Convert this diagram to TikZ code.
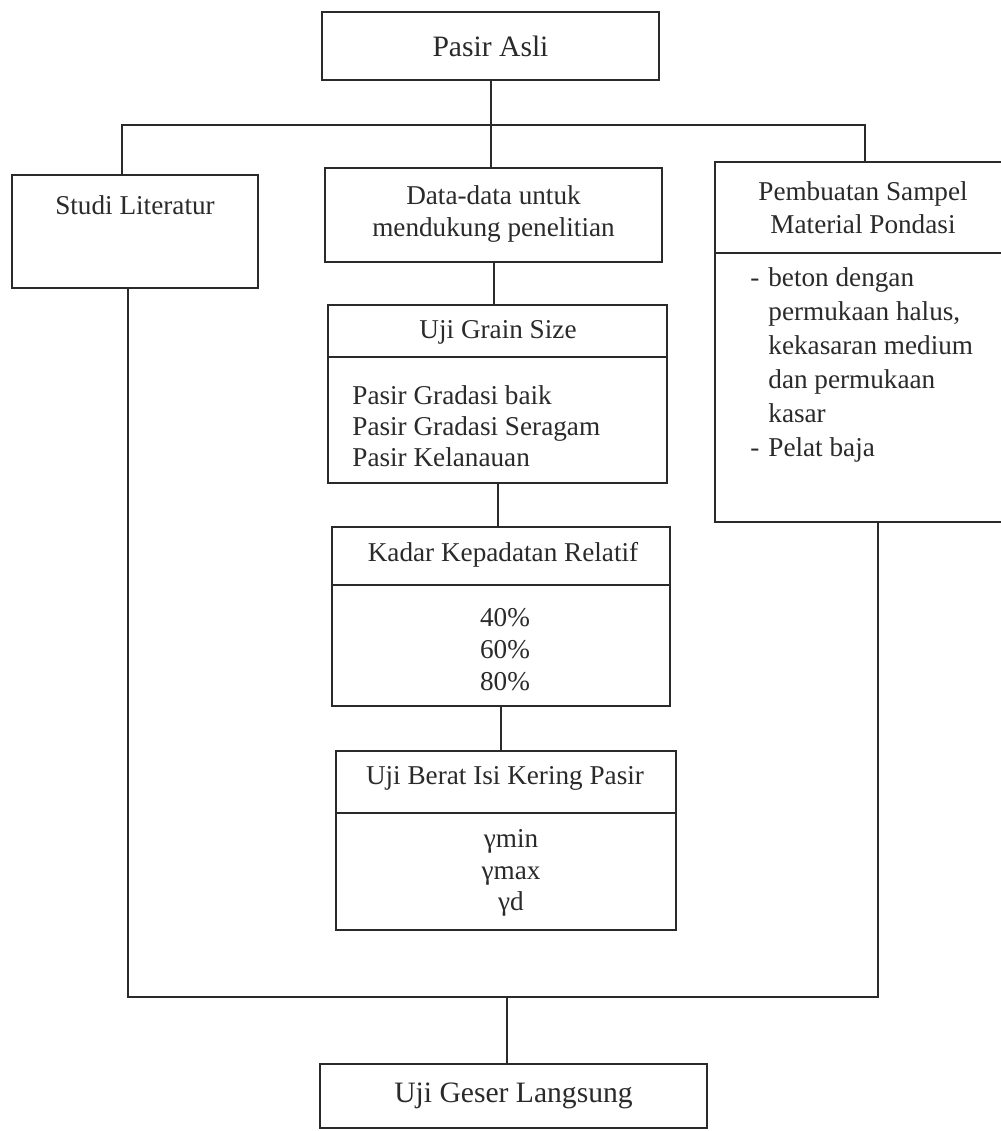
\documentclass[tikz,border=0pt]{standalone}
\usepackage{fontspec}
\setmainfont{Liberation Serif}
\definecolor{ink}{HTML}{2A2A2A}
\begin{document}
\begin{tikzpicture}[x=0.5pt,y=-0.5pt,
  every node/.style={text=ink},
  box/.style={draw=ink, line width=1pt, inner sep=0pt},
  big/.style={font=\fontsize{14.8}{17.5}\selectfont},
  norm/.style={font=\fontsize{13.6}{16.3}\selectfont, inner sep=0pt},
  line/.style={draw=ink, line width=1pt}]
\clip (0,0) rectangle (1001,1131);
\fill[white] (0,0) rectangle (1001,1131);
% boxes
\node[box, big, minimum width=168.5pt, minimum height=34pt] (asli) at (490.5,46) {Pasir Asli};
\node[box, minimum width=123pt, minimum height=56.5pt] (studi) at (135,231.5) {};
\node[box, minimum width=168.5pt, minimum height=47pt] (data) at (493.5,215) {};
\node[box, minimum width=169.5pt, minimum height=89pt] (grain) at (497.5,394) {};
\node[box, minimum width=169pt, minimum height=89.5pt] (kadar) at (501,616.5) {};
\node[box, minimum width=170pt, minimum height=89.5pt] (berat) at (506,840.5) {};
\node[box, minimum width=148.5pt, minimum height=180pt] (pemb) at (863.5,342) {};
\node[box, big, minimum width=193.5pt, minimum height=32pt] (geser) at (513.5,1096) {Uji Geser Langsung};
% dividers
\draw[line] (grain.west |- 0,357) -- (grain.east |- 0,357);
\draw[line] (kadar.west |- 0,585) -- (kadar.east |- 0,585);
\draw[line] (berat.west |- 0,813) -- (berat.east |- 0,813);
\draw[line] (pemb.west |- 0,253) -- (pemb.east |- 0,253);
% texts
\node[norm] (studiT) at (135,205) {Studi Literatur};
\node[norm, align=center] (dataT) at (493.5,214) {Data-data untuk\\mendukung penelitian};
\node[norm] (grainT) at (498,332) {Uji Grain Size};
\node[norm, align=left, anchor=west, font=\fontsize{13.6}{15.5}\selectfont] (grainI) at (352,426) {Pasir Gradasi baik\\Pasir Gradasi Seragam\\Pasir Kelanauan};
\node[norm] (kadarT) at (503,555) {Kadar Kepadatan Relatif};
\node[norm, align=center, font=\fontsize{13.6}{16}\selectfont] (kadarI) at (505,650) {40\%\\60\%\\80\%};
\node[norm] (beratT) at (505,778) {Uji Berat Isi Kering Pasir};
\node[norm, align=center, font=\fontsize{13.6}{15.75}\selectfont] (beratI) at (511,873) {γmin\\γmax\\γd};
\node[norm, align=center, font=\fontsize{13.6}{16.5}\selectfont] (pembT) at (863,208) {Pembuatan Sampel\\Material Pondasi};
\node[norm, align=left, anchor=west, font=\fontsize{13.6}{17}\selectfont] (pembI) at (750,365)
  {\makebox[9pt][l]{-}beton dengan\\\hspace*{9pt}permukaan halus,\\\hspace*{9pt}kekasaran medium\\\hspace*{9pt}dan permukaan\\\hspace*{9pt}kasar\\\makebox[9pt][l]{-}Pelat baja};
% connectors
\coordinate (bl) at (122,125);
\coordinate (br) at (865,125);
\coordinate (cl) at (128,997);
\coordinate (cr) at (878,997);
\coordinate (cm) at (507,997);
\draw[line] (asli.south) -- (asli.south |- data.north);
\draw[line] (studi.north -| bl) -- (bl) -- (br) -- (pemb.north -| br);
\draw[line] (data.south) -- (data.south |- grain.north);
\draw[line] (grain.south) -- (grain.south |- kadar.north);
\draw[line] (kadar.south) -- (kadar.south |- berat.north);
\draw[line] (studi.south -| cl) -- (cl) -- (cr) -- (pemb.south -| cr);
\draw[line] (cm) -- (cm |- geser.north);
\end{tikzpicture}
\end{document}
